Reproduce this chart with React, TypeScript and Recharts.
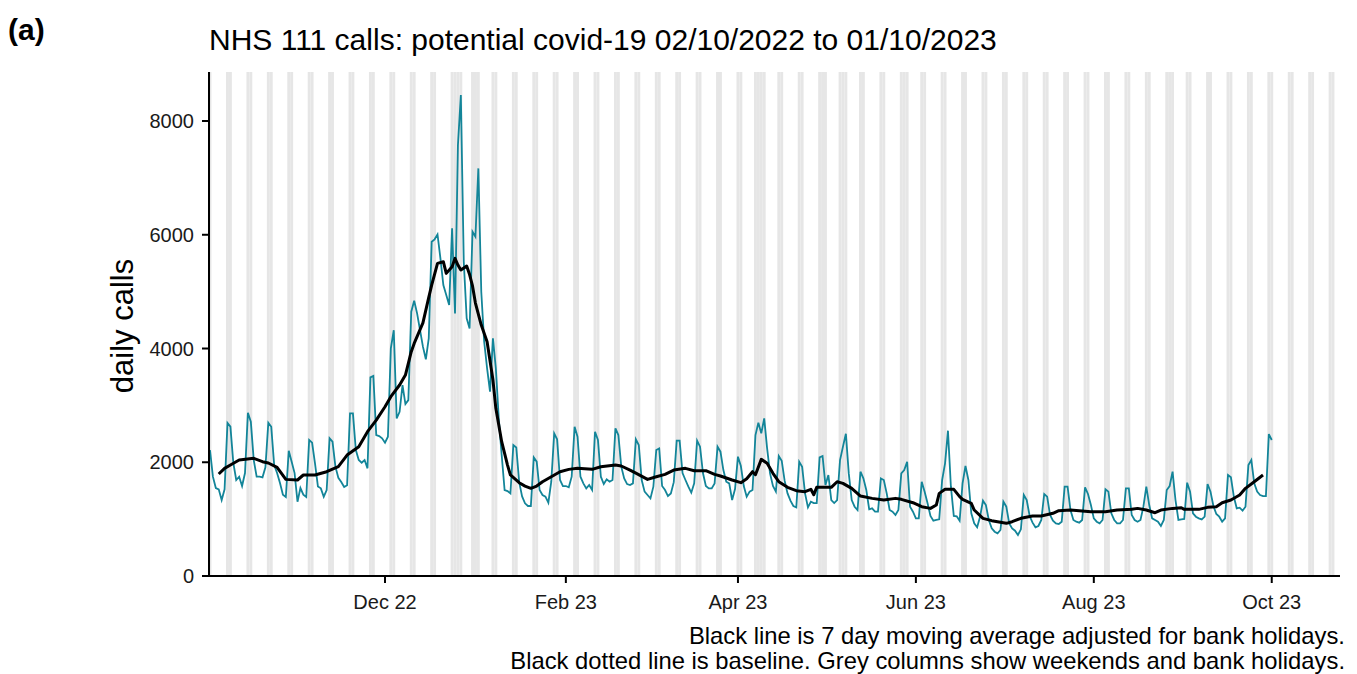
import { ComposedChart, Line, XAxis, YAxis, ReferenceArea } from 'recharts';

// day 0 = Sun 02/10/2022, day 364 = Sun 01/10/2023
const dailyCalls = [
  2215, 1746, 1547, 1524, 1336, 1524, 2690, 2625, 1987, 1688, 1746, 1582, 1810, 2871,
  2713, 2039, 1746, 1746, 1735, 1910, 2695, 2625, 1951, 1810, 1635, 1430, 1389, 2203,
  2010, 1810, 1306, 1547, 1430, 1389, 2391, 2344, 1980, 1575, 1541, 1394, 1512, 2420,
  2361, 1922, 1727, 1652, 1564, 1594, 2859, 2859, 2215, 2039, 1992, 2039, 1893, 3493,
  3517, 2479, 2461, 2420, 2344, 2449, 4004, 4321, 2771, 2888, 3357, 3023, 3093, 4648,
  4841, 4618, 4325, 4032, 3810, 4179, 5877, 5920, 6007, 5585, 5116, 4940, 4764, 6112,
  4618, 7577, 8456, 5526, 4530, 4354, 6053, 5965, 7167, 4998, 4119, 3651, 3240, 4178,
  3651, 2772, 2127, 1512, 1494, 1453, 2303, 2260, 1650, 1400, 1278, 1231, 1231, 2086,
  2010, 1512, 1424, 1395, 1289, 1658, 2508, 2403, 1688, 1582, 1582, 1559, 1746, 2625,
  2449, 1746, 1629, 1541, 1600, 1512, 2537, 2391, 1746, 1617, 1699, 1658, 1688, 2596,
  2479, 1922, 1717, 1617, 1600, 1629, 2403, 2303, 1688, 1483, 1424, 1365, 1570, 2215,
  2244, 1582, 1512, 1406, 1450, 1650, 2379, 2379, 1810, 1688, 1570, 1465, 1629, 2379,
  2274, 1810, 1582, 1541, 1541, 1629, 2274, 2186, 1863, 1658, 1629, 1336, 1530, 2098,
  1934, 1582, 1395, 1483, 1512, 2479, 2696, 2508, 2772, 2244, 1805, 1582, 1483, 2110,
  2027, 1676, 1453, 1324, 1231, 1207, 2010, 1922, 1453, 1207, 1307, 1283, 1283, 2086,
  2110, 1600, 1776, 1336, 1283, 1336, 2039, 2274, 2500, 1800, 1336, 1218, 1160, 1834,
  1717, 1512, 1172, 1189, 1131, 1131, 1717, 1688, 1453, 1160, 1131, 1072, 1160, 1805,
  1863, 2010, 1218, 1131, 1014, 1014, 1658, 1483, 1278, 1055, 973, 985, 996, 1688,
  1981, 2555, 1575, 1055, 1050, 970, 1629, 1934, 1688, 1102, 926, 856, 1043, 1324,
  1248, 985, 838, 779, 750, 809, 1307, 1219, 926, 838, 797, 721, 820, 1424,
  1336, 1055, 938, 856, 879, 985, 1442, 1395, 1072, 973, 926, 914, 955, 1570,
  1570, 1160, 985, 955, 938, 985, 1559, 1442, 1248, 1014, 955, 926, 985, 1524,
  1483, 1102, 985, 926, 926, 985, 1541, 1541, 1072, 985, 955, 985, 1219, 1570,
  1248, 1014, 985, 955, 879, 985, 1512, 1582, 1834, 1336, 985, 996, 1002, 1641,
  1483, 1102, 1043, 1014, 996, 1043, 1617, 1483, 1231, 1090, 1043, 955, 1014, 1776,
  1735, 1395, 1190, 1201, 1149, 1219, 1951, 2039, 1629, 1483, 1424, 1406, 1406, 2496,
  2391,
];

const maDays = [
  3, 5, 7, 10, 15, 18, 20, 23, 26, 30, 32, 36, 40, 44, 47, 51, 54, 57, 60, 62, 65, 67, 69, 70,
  73, 75, 76, 78, 80, 81, 83, 84, 85, 86, 88, 89, 90, 91, 93, 95, 97, 98, 100, 102, 103, 106,
  108, 110, 112, 114, 117, 120, 123, 126, 131, 134, 139, 141, 144, 146, 150, 153, 156, 159,
  163, 166, 170, 173, 175, 179, 182, 184, 186, 187, 189, 191, 193, 195, 198, 201, 204, 206,
  207, 208, 211, 213, 215, 217, 220, 223, 227, 231, 235, 237, 241, 244, 247, 249, 250, 252,
  255, 257, 258, 261, 262, 265, 268, 273, 275, 278, 282, 285, 289, 291, 295, 298, 302, 307,
  311, 316, 318, 321, 324, 326, 330, 333, 334, 339, 342, 345, 347, 350, 353, 355, 358, 361,
];
const maValues = [
  1793, 1893, 1951, 2039, 2069, 2010, 1987, 1910, 1699, 1688, 1776, 1776, 1834, 1922, 2127, 2274,
  2537, 2742, 2976, 3153, 3358, 3534, 3944, 4090,
  4450, 4900, 5116, 5497, 5526, 5321, 5438, 5585, 5468, 5380, 5450, 5300, 5100, 4800, 4413, 4120,
  3450, 2948, 2361, 1950, 1776, 1640,
  1580, 1541, 1582, 1658, 1746, 1834, 1875, 1893, 1875, 1922, 1951, 1934, 1863, 1810, 1699, 1746,
  1787, 1863,
  1893, 1851, 1851, 1787, 1758, 1688, 1641, 1711, 1834, 1781, 2051, 1981, 1805, 1658, 1559, 1500,
  1483, 1524,
  1430, 1559, 1559, 1559, 1658, 1629, 1541, 1406, 1365, 1336, 1365, 1348, 1289, 1218, 1189, 1248,
  1453, 1524,
  1524, 1395, 1348, 1278, 1160, 1014, 973, 926, 955, 1014, 1055, 1055, 1102, 1149, 1160, 1149,
  1131, 1131,
  1160, 1172, 1189, 1160, 1113, 1160, 1189, 1200, 1172, 1172, 1207, 1219, 1289, 1336, 1424, 1541,
  1658, 1776,
];

const bankHolidays = [85, 86, 92, 187, 190, 211, 218, 239, 330];
const tickDays = [60, 122, 181, 242, 303, 364];
const tickLabels = ['Dec 22', 'Feb 23', 'Apr 23', 'Jun 23', 'Aug 23', 'Oct 23'];
const yTicks = [0, 2000, 4000, 6000, 8000];

const X_MIN = -0.34;
const X_MAX = 387.4;
const Y_MAX = 8862;
const LAST_SHADED_DAY = 385;
const FONT = '"Liberation Sans", Arial, Helvetica, sans-serif';

const rows = dailyCalls.map((v, i) => ({ day: i, calls: v, ma: null as number | null }));
maDays.forEach((d, i) => {
  rows[d].ma = maValues[i];
});

const shadedDays: number[] = [];
for (let d = 0; d <= LAST_SHADED_DAY; d++) {
  if (d % 7 === 0 || d % 7 === 6 || bankHolidays.includes(d)) shadedDays.push(d);
}

export default function App() {
  const axisStyle = { stroke: '#000', strokeWidth: 2 };
  const tickStyle = { fill: '#1a1a1a', fontSize: 20, fontFamily: FONT };

  return (
    <div style={{ position: 'absolute', left: 0, top: 0, width: 1357, height: 674, background: '#fff' }}>
      <ComposedChart
        width={1357}
        height={674}
        data={rows}
        margin={{ top: 72, right: 17, bottom: 58, left: 129 }}
      >
        {shadedDays.map((d) => (
          <ReferenceArea
            key={d}
            x1={Math.max(d - 0.5, X_MIN)}
            x2={Math.min(d + 0.5, X_MAX)}
            y1={0}
            y2={Y_MAX}
            fill="#e6e6e6"
            fillOpacity={1}
            stroke="none"
            ifOverflow="hidden"
          />
        ))}
        <XAxis
          type="number"
          dataKey="day"
          domain={[X_MIN, X_MAX]}
          allowDataOverflow
          ticks={tickDays}
          interval={0}
          tickFormatter={(d: number) => tickLabels[tickDays.indexOf(d)] ?? ''}
          axisLine={axisStyle}
          tickLine={axisStyle}
          tickSize={7}
          tickMargin={12}
          tick={tickStyle}
          height={40}
        />
        <YAxis
          type="number"
          domain={[0, Y_MAX]}
          allowDataOverflow
          ticks={yTicks}
          interval={0}
          axisLine={axisStyle}
          tickLine={axisStyle}
          tickSize={7}
          tickMargin={8}
          tick={tickStyle}
          width={80}
        />
        <Line
          type="linear"
          dataKey="calls"
          stroke="#138599"
          strokeWidth={1.8}
          dot={false}
          activeDot={false}
          isAnimationActive={false}
        />
        <Line
          type="linear"
          dataKey="ma"
          stroke="#000"
          strokeWidth={3}
          strokeLinejoin="round"
          dot={false}
          activeDot={false}
          connectNulls
          isAnimationActive={false}
        />
      </ComposedChart>
      <svg
        width={1357}
        height={674}
        style={{ position: 'absolute', left: 0, top: 0, pointerEvents: 'none' }}
        fontFamily={FONT}
      >
        <text x={8} y={40} fontSize={30} fontWeight="bold" fill="#000">(a)</text>
        <text x={209} y={50} fontSize={30} fill="#000">
          NHS 111 calls: potential covid-19 02/10/2022 to 01/10/2023
        </text>
        <text x={133} y={326} fontSize={31} fill="#000" textAnchor="middle" transform="rotate(-90 133 326)">
          daily calls
        </text>
        <text x={1345} y={644} fontSize={23.8} fill="#000" textAnchor="end">
          Black line is 7 day moving average adjusted for bank holidays.
        </text>
        <text x={1345} y={669} fontSize={23.8} fill="#000" textAnchor="end">
          Black dotted line is baseline. Grey columns show weekends and bank holidays.
        </text>
      </svg>
    </div>
  );
}
